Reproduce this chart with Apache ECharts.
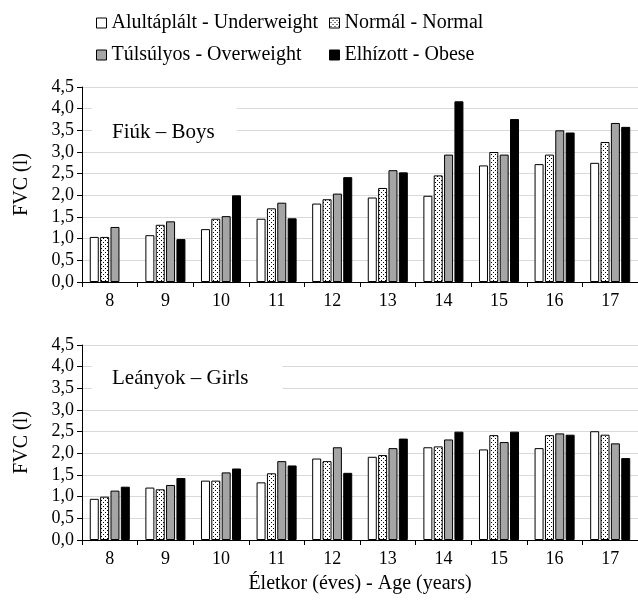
<!DOCTYPE html>
<html>
<head>
<meta charset="utf-8">
<script src="https://cdn.jsdelivr.net/npm/echarts@6/dist/echarts.min.js"></script>
<style>
html,body{margin:0;padding:0;background:#fff;}
#chart{width:638px;height:601px;}
</style>
</head>
<body>
<div id="chart"></div>
<script>
const ages = ['8','9','10','11','12','13','14','15','16','17'];
const seriesNames = ['Alultáplált - Underweight','Normál - Normal','Túlsúlyos - Overweight','Elhízott - Obese'];
const boysUnder  = [1.04,1.08,1.22,1.46,1.81,1.95,1.99,2.69,2.72,2.75];
const boysNormal = [1.04,1.32,1.46,1.70,1.91,2.17,2.46,3.00,2.94,3.23];
const boysOver   = [1.27,1.40,1.52,1.83,2.04,2.58,2.94,2.94,3.50,3.67];
const boysObese  = [null,0.99,2.00,1.47,2.42,2.53,4.17,3.76,3.45,3.58];
const girlsUnder  = [0.95,1.21,1.37,1.33,1.88,1.92,2.14,2.09,2.12,2.51];
const girlsNormal = [1.00,1.17,1.37,1.54,1.82,1.96,2.16,2.42,2.42,2.43];
const girlsOver   = [1.14,1.27,1.56,1.82,2.14,2.12,2.32,2.26,2.46,2.23];
const girlsObese  = [1.23,1.43,1.65,1.72,1.55,2.34,2.50,2.50,2.43,1.89];
const yTicks = [0,0.5,1,1.5,2,2.5,3,3.5,4,4.5];

const FONT = 'Liberation Serif';

const pc = document.createElement('canvas');
pc.width = 4; pc.height = 4;
const pctx = pc.getContext('2d');
pctx.fillStyle = '#fff'; pctx.fillRect(0,0,4,4);
pctx.fillStyle = '#000';
pctx.fillRect(1,0,1,1);
pctx.fillRect(3,2,1,1);
const dotted = {image: pc, repeat: 'repeat'};
const fills = ['#ffffff', dotted, '#a5a5a5', '#000000'];

function fmt(v){ return v.toFixed(1).replace('.', ','); }

function yAxis(idx){
  return {
    type:'value', gridIndex: idx, min: yTicks[0], max: yTicks[yTicks.length-1], interval: 0.5,
    name: 'FVC (l)', nameLocation:'middle', nameRotate: 90, nameGap: 50,
    nameTextStyle:{fontFamily:FONT, fontSize:20, color:'#000'},
    axisLine:{show:true, lineStyle:{color:'#000', width:1}},
    axisTick:{show:true, length:5, lineStyle:{color:'#000'}},
    axisLabel:{fontFamily:FONT, fontSize:18, color:'#000', margin:8, formatter: fmt},
    splitLine:{show:true, lineStyle:{color:'#d9d9d9', width:1}}
  };
}
function xAxis(idx, withName){
  const a = {
    type:'category', gridIndex: idx, data: ages,
    axisLine:{show:true, lineStyle:{color:'#000', width:1}},
    axisTick:{show:true, length:5, interval:0, lineStyle:{color:'#000'}},
    axisLabel:{fontFamily:FONT, fontSize:18, color:'#000', margin:10, interval:0},
    splitLine:{show:false}
  };
  if (withName){
    a.name = 'Életkor (éves) - Age (years)';
    a.nameLocation = 'middle';
    a.nameGap = 34;
    a.nameTextStyle = {fontFamily:FONT, fontSize:20, color:'#000'};
  }
  return a;
}

const boys = [boysUnder, boysNormal, boysOver, boysObese];
const girls = [girlsUnder, girlsNormal, girlsOver, girlsObese];
const series = [];
[boys, girls].forEach((set, gi) => {
  set.forEach((vals, si) => {
    series.push({
      name: seriesNames[si], type:'bar', xAxisIndex: gi, yAxisIndex: gi,
      data: vals, barWidth: 9, barGap: '15%',
      itemStyle:{color: fills[si], borderColor:'#000', borderWidth:1},
      emphasis:{disabled:true}
    });
  });
});

function legend(left, names){
  return {
    orient:'vertical', left:left, top:8, padding:5,
    data: names,
    itemWidth:10, itemHeight:10, itemGap:12,
    icon:'rect',
    textStyle: {fontFamily:'Liberation Serif, Times New Roman, serif', fontSize:20, color:'#000', lineHeight:20},
    itemStyle:{borderColor:'#000', borderWidth:1},
    selectedMode:false
  };
}

const chart = echarts.init(document.getElementById('chart'), null, {renderer:'canvas'});
chart.setOption({
  animation:false,
  backgroundColor:'#fff',
  textStyle:{fontFamily:FONT, color:'#000'},
  title:[
    {text:'Fiúk – Boys', left:92, top:97, padding:[25,22,6,20], backgroundColor:'#fff',
     textStyle:{fontFamily:FONT, fontSize:21, fontWeight:'normal', color:'#000', lineHeight:20}},
    {text:'Leányok – Girls', left:92, top:357, padding:[11,34,13,20], backgroundColor:'#fff',
     textStyle:{fontFamily:FONT, fontSize:21, fontWeight:'normal', color:'#000', lineHeight:20}}
  ],
  legend:[
    legend(91, [seriesNames[0], seriesNames[2]]),
    legend(324, [seriesNames[1], seriesNames[3]])
  ],
  grid:[
    {left:82, top:87, width:559, height:195},
    {left:82, top:345, width:559, height:195}
  ],
  xAxis:[xAxis(0,false), xAxis(1,true)],
  yAxis:[yAxis(0), yAxis(1)],
  series: series
});
</script>
</body>
</html>
